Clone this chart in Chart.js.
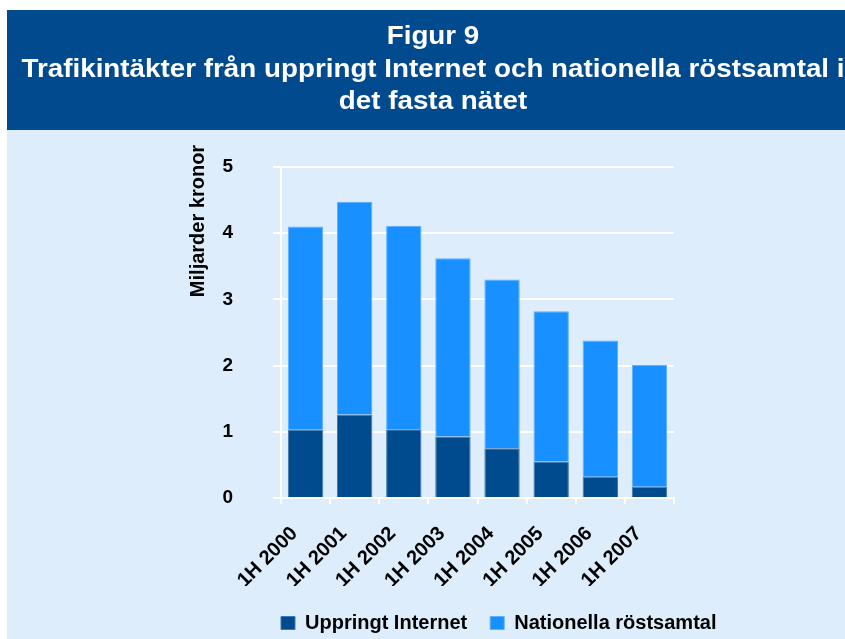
<!DOCTYPE html>
<html>
<head>
<meta charset="utf-8">
<script src="https://cdn.jsdelivr.net/npm/chart.js@4/dist/chart.umd.min.js"></script>
<style>
  html, body { margin: 0; padding: 0; background: #ffffff; }
  #wrap { width: 845px; height: 639px; }
</style>
</head>
<body>
<div id="wrap"><canvas id="myChart" width="845" height="639"></canvas></div>
<script>
// data
var categories = ["1H 2000", "1H 2001", "1H 2002", "1H 2003", "1H 2004", "1H 2005", "1H 2006", "1H 2007"];
var uppringt = [1.03, 1.26, 1.04, 0.93, 0.75, 0.55, 0.32, 0.17];
var nationella = [3.07, 3.21, 3.07, 2.69, 2.55, 2.27, 2.06, 1.84];
var titleLines = ["Figur 9", "Trafikintäkter från uppringt Internet och nationella röstsamtal i", "det fasta nätet"];
var yTitle = "Miljarder kronor";

var FONT = "'Liberation Sans', Arial, sans-serif";
var headerBlue = "#004a8d";
var pageBlue = "#ddedfc";

// background, header band and axis title
var framePlugin = {
  id: "frame",
  beforeDraw: function (chart) {
    var ctx = chart.ctx;
    ctx.save();
    ctx.fillStyle = "#ffffff";
    ctx.fillRect(0, 0, chart.width, chart.height);
    ctx.fillStyle = pageBlue;
    ctx.fillRect(7, 10, chart.width - 7, chart.height - 10);
    ctx.fillStyle = headerBlue;
    ctx.fillRect(7, 10, chart.width - 7, 120);

    ctx.fillStyle = "#ffffff";
    ctx.font = "bold 26px " + FONT;
    ctx.textAlign = "center";
    ctx.textBaseline = "middle";
    // squeeze the title a bit, original font is narrower
    var sx = 823 / ctx.measureText(titleLines[1]).width;
    var ys = [37, 70, 102];
    for (var i = 0; i < titleLines.length; i++) {
      ctx.save();
      ctx.translate(433, ys[i]);
      ctx.scale(sx, 1);
      ctx.fillText(titleLines[i], 0, 0);
      ctx.restore();
    }

    ctx.fillStyle = "#000000";
    ctx.font = "bold 20px " + FONT;
    ctx.translate(198, 221);
    ctx.rotate(-Math.PI / 2);
    ctx.fillText(yTitle, 0, 0);
    ctx.restore();
  },
  afterLayout: function (chart) {
    var lg = chart.legend;
    var pad = lg.options.labels.padding;
    var dx = 281 - pad - lg.left;
    lg.left += dx;
    lg.right += dx;
    lg.top += 4;
    lg.bottom += 4;
  }
};

var ctx = document.getElementById("myChart").getContext("2d");

var myChart = new Chart(ctx, {
  type: "bar",
  plugins: [framePlugin],
  data: {
    labels: categories,
    datasets: [
      {
        label: "Uppringt Internet",
        data: uppringt,
        backgroundColor: "#004b8e",
        borderColor: "#3f78b0",
        borderWidth: 1,
        barPercentage: 0.72,
        categoryPercentage: 1.0,
      },
      {
        label: "Nationella röstsamtal",
        data: nationella,
        backgroundColor: "#1890ff",
        borderColor: "#5cb0ff",
        borderWidth: 1,
        barPercentage: 0.72,
        categoryPercentage: 1.0,
      },
    ],
  },
  options: {
    responsive: false,
    animation: false,
    layout: {
      padding: { left: 180, right: 171, top: 167, bottom: 0 },
    },
    plugins: {
      title: { display: false },
      tooltip: { enabled: false },
      legend: {
        position: "bottom",
        align: "start",
        labels: {
          boxWidth: 14,
          boxHeight: 13,
          padding: 23,
          color: "#000000",
          font: { family: FONT, size: 20, weight: "bold" },
        },
      },
    },
    scales: {
      x: {
        stacked: true,
        afterFit: function (scale) { scale.height = 88; },
        grid: {
          drawOnChartArea: false,
          drawTicks: true,
          tickLength: 6,
          color: "#ffffff",
          lineWidth: 2,
        },
        border: { color: "#ffffff", width: 2 },
        ticks: {
          autoSkip: false,
          minRotation: 45,
          maxRotation: 45,
          padding: 18,
          labelOffset: -11,
          color: "#000000",
          font: { family: FONT, size: 20, weight: "bold" },
        },
      },
      y: {
        stacked: true,
        min: 0,
        max: 5,
        afterFit: function (scale) { scale.width = 101; },
        grid: {
          color: "#ffffff",
          lineWidth: 2,
          tickLength: 8,
        },
        border: { color: "#ffffff", width: 2 },
        ticks: {
          stepSize: 1,
          padding: 40,
          color: "#000000",
          font: { family: FONT, size: 19, weight: "bold" },
        },
      },
    },
  },
});
</script>
</body>
</html>
